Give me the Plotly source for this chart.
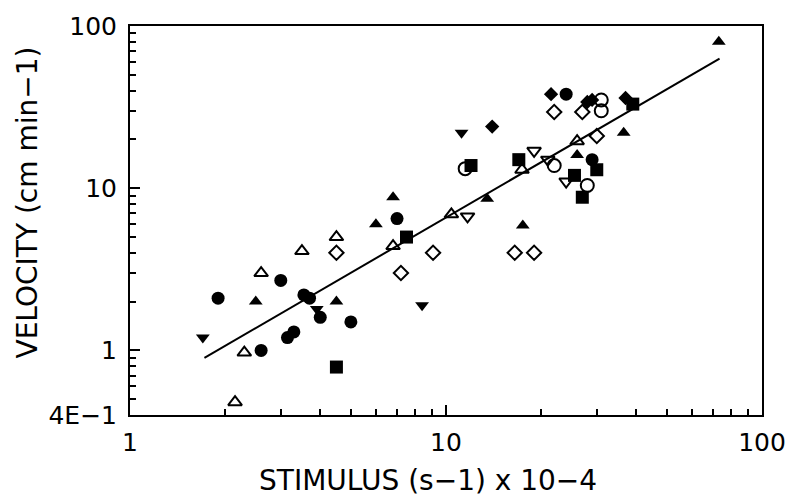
import plotly.graph_objects as go

# ---- data (STIMULUS x, VELOCITY y) ----
circ_fill_x = [1.9, 3.0, 3.55, 3.7, 4.0, 5.0, 3.15, 3.3, 2.6, 7.0, 24, 29]
circ_fill_y = [2.1, 2.7, 2.2, 2.1, 1.6, 1.5, 1.2, 1.3, 1.0, 6.5, 38, 15]

circ_open_x = [11.5, 22, 31, 31, 28]
circ_open_y = [13.2, 13.8, 35, 30, 10.4]

sq_fill_x = [4.5, 7.5, 12, 17, 39, 30, 25.5, 27]
sq_fill_y = [0.79, 5.0, 13.8, 15, 33, 13, 12, 8.8]

tri_up_fill_x = [2.5, 4.5, 6.8, 6.0, 13.5, 17.5, 26, 36.5, 73]
tri_up_fill_y = [2.0, 2.0, 8.8, 6.0, 8.6, 5.9, 16, 22, 80]

tri_up_open_x = [3.5, 2.6, 2.3, 2.15, 10.4, 17.4, 26, 6.8, 4.5]
tri_up_open_y = [4.1, 3.0, 0.97, 0.48, 6.9, 13, 19.5, 4.4, 5.0]

tri_dn_fill_x = [1.7, 3.9, 8.4, 11.2]
tri_dn_fill_y = [1.2, 1.8, 1.9, 22]

tri_dn_open_x = [11.7, 19, 21, 24]
tri_dn_open_y = [6.7, 17, 15, 11]

dia_fill_x = [21.5, 28, 29, 37, 14]
dia_fill_y = [38, 34, 35, 36, 24]

dia_open_x = [4.5, 7.2, 9.1, 16.5, 19, 22, 27, 30]
dia_open_y = [4.0, 3.0, 4.0, 4.0, 4.0, 29.5, 29.5, 21]

fit_x = [1.72, 73.4]
fit_y = [0.9, 63]

x_major = [1, 10, 100]
x_major_text = ["1", "10", "100"]
y_major = [0.4, 1, 10, 100]
y_major_text = ["4E\u22121", "1", "10", "100"]

x_minor = [m * d for d in (1, 10) for m in range(2, 10)]
y_minor = [0.5, 0.6, 0.7, 0.8, 0.9] + [m * d for d in (1, 10) for m in range(2, 10)]

FONT = "DejaVu Sans, Liberation Sans, Arial, sans-serif"
X_RANGE = [0, 2]
Y_RANGE = [-0.39794, 2]

fig = go.Figure()

fig.add_trace(go.Scatter(x=fit_x, y=fit_y, mode="lines",
                         line=dict(color="black", width=2), showlegend=False))

def add(xs, ys, symbol, size, filled):
    fig.add_trace(go.Scatter(
        x=xs, y=ys, mode="markers", showlegend=False,
        marker=dict(symbol=symbol, size=size, color="black",
                    line=dict(color="black", width=0 if filled else 2))))

add(circ_fill_x, circ_fill_y, "circle", 13, True)
add(circ_open_x, circ_open_y, "circle-open", 13, False)
add(sq_fill_x, sq_fill_y, "square", 13, True)
add(tri_up_fill_x, tri_up_fill_y, "triangle-up", 12, True)
add(tri_up_open_x, tri_up_open_y, "triangle-up-open", 12, False)
add(tri_dn_fill_x, tri_dn_fill_y, "triangle-down", 12, True)
add(tri_dn_open_x, tri_dn_open_y, "triangle-down-open", 12, False)
add(dia_fill_x, dia_fill_y, "diamond", 11, True)
add(dia_open_x, dia_open_y, "diamond-open", 11, False)

tick_font = dict(family=FONT, size=25, color="black")
title_font = dict(family=FONT, size=28, color="black")

fig.update_layout(
    width=798, height=500,
    margin=dict(l=130, r=28, t=22, b=85),
    paper_bgcolor="white", plot_bgcolor="white",
    xaxis=dict(type="log", range=X_RANGE, showgrid=False, zeroline=False,
               showline=True, linecolor="black", linewidth=2, mirror=True,
               ticks="inside", ticklen=10, tickwidth=2, tickcolor="black",
               tickvals=x_major, ticktext=x_major_text, tickfont=tick_font,
               ticklabelstandoff=4),
    yaxis=dict(type="log", range=Y_RANGE, showgrid=False, zeroline=False,
               showline=True, linecolor="black", linewidth=2, mirror=True,
               ticks="inside", ticklen=10, tickwidth=2, tickcolor="black",
               tickvals=y_major, ticktext=y_major_text, tickfont=tick_font,
               ticklabelstandoff=6),
    # overlay axes that carry only the minor tick marks
    xaxis2=dict(type="log", range=X_RANGE, overlaying="x", side="bottom",
                showgrid=False, zeroline=False, showline=False,
                ticks="inside", ticklen=6, tickwidth=2, tickcolor="black",
                tickvals=x_minor, showticklabels=False),
    yaxis2=dict(type="log", range=Y_RANGE, overlaying="y", side="left",
                showgrid=False, zeroline=False, showline=False,
                ticks="inside", ticklen=6, tickwidth=2, tickcolor="black",
                tickvals=y_minor, showticklabels=False),
    annotations=[
        dict(text="STIMULUS (s\u22121) x 10\u22124", xref="paper", yref="paper",
             x=(432 - 130) / 640, y=-(481 - 415) / 393, xanchor="center",
             yanchor="middle", showarrow=False, font=title_font),
        dict(text="VELOCITY (cm min\u22121)", xref="paper", yref="paper",
             x=-(130 - 26) / 640, y=(415 - 200) / 393, xanchor="center",
             yanchor="middle", textangle=-90, showarrow=False, font=title_font),
    ],
)

# an invisible trace bound to the overlay axes so they are drawn
fig.add_trace(go.Scatter(x=fit_x, y=fit_y, xaxis="x2", yaxis="y2",
                         mode="lines", line=dict(width=0), opacity=0,
                         hoverinfo="skip", showlegend=False))

fig.write_html("out.html")
